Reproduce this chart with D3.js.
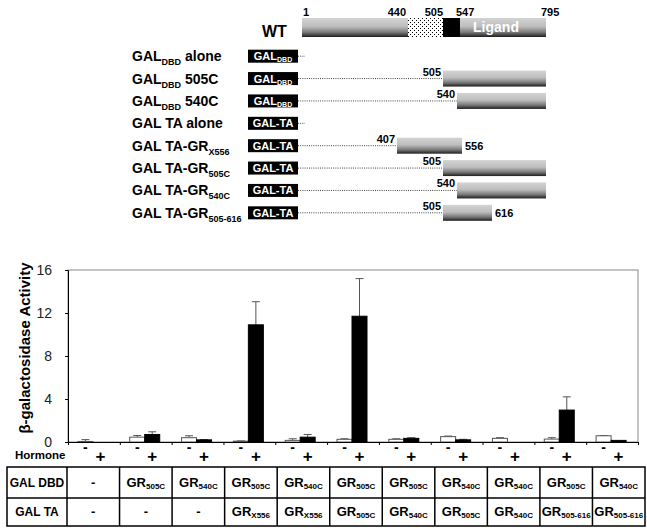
<!DOCTYPE html>
<html>
<head>
<meta charset="utf-8">
<script src="https://cdn.jsdelivr.net/npm/d3@7"></script>
<style>
body { margin: 0; background: #fff; }
svg { font-family: "Liberation Sans", Arial, Helvetica, sans-serif; font-weight: bold; }
</style>
</head>
<body>
<svg width="647" height="532"></svg>
<script>
// ---- construct map (top) ----
const wtMarks = [1, 440, 505, 547, 795]
const wtDomains = [
    {from: 1, to: 440, kind: "grad"},
    {from: 440, to: 505, kind: "dots"},
    {from: 505, to: 547, kind: "black"},
    {from: 547, to: 795, kind: "grad", name: "Ligand"}
]
const constructNames = [
    ["GAL", "DBD", " alone"],
    ["GAL", "DBD", " 505C"],
    ["GAL", "DBD", " 540C"],
    ["GAL TA alone", "", ""],
    ["GAL TA-GR", "X556", ""],
    ["GAL TA-GR", "505C", ""],
    ["GAL TA-GR", "540C", ""],
    ["GAL TA-GR", "505-616", ""]
]
const constructTags = ["DBD", "DBD", "DBD", "TA", "TA", "TA", "TA", "TA"]
const constructStart = [null, 505, 540, null, 407, 505, 540, 505]
const constructEnd = [null, 795, 795, null, 556, 795, 795, 616]

// ---- assay (bottom) ----
const hormone = ["-", "+"]
const noHormone = [0.05, 0.45, 0.4, 0.08, 0.15, 0.25, 0.25, 0.5, 0.34, 0.27, 0.58]
const noHormoneErr = [0.17, 0.15, 0.18, 0.02, 0.15, 0.05, 0.05, 0.05, 0.06, 0.13, 0.02]
const withHormone = [0, 0.7, 0.2, 10.9, 0.45, 11.7, 0.34, 0.2, 0, 2.97, 0.15]
const withHormoneErr = [0, 0.25, 0.02, 2.15, 0.25, 3.5, 0.06, 0.05, 0, 1.23, 0]
const yTicks = [0, 4, 8, 12, 16]
const dbdRow = ["-", "505C", "540C", "505C", "540C", "505C", "505C", "540C", "540C", "505C", "540C"]
const taRow = ["-", "-", "-", "X556", "X556", "505C", "540C", "505C", "540C", "505-616", "505-616"]

const svg = d3.select("svg")

// gradient + dot pattern
const defs = svg.append("defs")
const grad = defs.append("linearGradient")
    .attr("id", "grayGrad")
    .attr("x1", 0).attr("y1", 0).attr("x2", 0).attr("y2", 1)
grad.selectAll("stop")
    .data([[0, "#d4d4d4"], [0.45, "#bdbdbd"], [0.75, "#7a7a7a"], [1, "#1e1e1e"]])
    .join("stop")
    .attr("offset", d => d[0])
    .attr("stop-color", d => d[1])
const dots = defs.append("pattern")
    .attr("id", "dots")
    .attr("width", 4).attr("height", 4)
    .attr("patternUnits", "userSpaceOnUse")
dots.append("rect").attr("width", 4).attr("height", 4).attr("fill", "#fff")
dots.append("rect").attr("x", 0).attr("y", 0).attr("width", 1).attr("height", 1).attr("fill", "#000")
dots.append("rect").attr("x", 2).attr("y", 2).attr("width", 1).attr("height", 1).attr("fill", "#000")

// schematic residue scale (not proportional in the original drawing)
const aa = d3.scaleLinear()
    .domain([1, 407, 440, 505, 540, 547, 556, 616, 795])
    .range([302, 397, 408, 443, 457, 460, 462, 492, 546])

// WT bar
const wt = svg.append("g")
wt.append("text")
    .attr("x", 262).attr("y", 37)
    .attr("font-size", 16)
    .text("WT")
wt.selectAll("rect")
    .data(wtDomains)
    .join("rect")
    .attr("x", d => aa(d.from))
    .attr("width", d => aa(d.to) - aa(d.from))
    .attr("y", 18)
    .attr("height", 19)
    .attr("fill", function(d){
        if (d.kind == "grad") return "url(#grayGrad)"
        if (d.kind == "dots") return "url(#dots)"
        return "#000"
    })
wt.selectAll("text.dom")
    .data(wtDomains.filter(d => d.name))
    .join("text")
    .attr("class", "dom")
    .attr("x", d => (aa(d.from) + aa(d.to)) / 2 - 7)
    .attr("y", 32)
    .attr("text-anchor", "middle")
    .attr("font-size", 14)
    .attr("fill", "#fff")
    .text(d => d.name)
wt.selectAll("text.mark")
    .data(wtMarks)
    .join("text")
    .attr("class", "mark")
    .attr("x", function(d, i){
        if (i == 0) return aa(d) + 1
        if (i == 1) return aa(d) - 2
        if (i == 2) return aa(d)
        if (i == 3) return aa(d) - 4
        return aa(d) - 5
    })
    .attr("text-anchor", (d, i) => (i == 1 || i == 2) ? "end" : "start")
    .attr("y", 16)
    .attr("font-size", 11)
    .text(d => d)

// construct rows
const rows = d3.scaleBand().domain(d3.range(8)).range([45, 224])
const cons = svg.append("g")
    .selectAll("g")
    .data(constructNames.map((n, i) => ({name: n, tag: constructTags[i], start: constructStart[i], end: constructEnd[i], i: i})))
    .join("g")
    .attr("transform", d => "translate(0," + (rows(d.i) + rows.bandwidth() / 2) + ")")

const lab = cons.append("text")
    .attr("x", 132).attr("y", 5)
    .attr("font-size", 14)
lab.append("tspan").text(d => d.name[0])
lab.append("tspan").attr("font-size", 9).attr("dy", 4).text(d => d.name[1])
lab.append("tspan").attr("dy", -4).text(d => d.name[2])

cons.append("line")
    .attr("x1", 298)
    .attr("x2", d => d.start ? aa(d.start) : 305)
    .attr("y1", 0).attr("y2", 0)
    .attr("stroke", "#444")
    .attr("stroke-width", 1)
    .attr("stroke-dasharray", "1,1.2")

cons.append("rect")
    .attr("x", 248).attr("y", -6.5)
    .attr("width", 50).attr("height", 13)
    .attr("fill", "#000")
const boxText = cons.append("text")
    .attr("x", 273).attr("y", 4)
    .attr("text-anchor", "middle")
    .attr("font-size", 11)
    .attr("fill", "#fff")
boxText.append("tspan").text(d => d.tag == "DBD" ? "GAL" : "GAL-TA")
boxText.append("tspan").attr("font-size", 7).attr("dy", 2).text(d => d.tag == "DBD" ? "DBD" : "")

const withBar = cons.filter(d => d.start)
withBar.append("rect")
    .attr("x", d => aa(d.start))
    .attr("width", d => aa(d.end) - aa(d.start))
    .attr("y", -8).attr("height", 16)
    .attr("fill", "url(#grayGrad)")
withBar.append("text")
    .attr("x", d => aa(d.start) - 2)
    .attr("y", -3)
    .attr("text-anchor", "end")
    .attr("font-size", 11)
    .text(d => d.start)
withBar.filter(d => d.end != 795).append("text")
    .attr("x", d => aa(d.end) + 3)
    .attr("y", 4)
    .attr("font-size", 11)
    .text(d => d.end)

// ---- bar chart ----
const y = d3.scaleLinear().domain([0, 16]).range([442, 270])
const x = d3.scaleBand().domain(d3.range(11)).range([68, 638])
const xs = d3.scaleBand().domain(hormone)
    .range([x.bandwidth() / 2 - 16, x.bandwidth() / 2 + 14])
const xEdge = d3.scaleLinear().domain([0, 11]).range([68, 638])

svg.append("rect")
    .attr("x", 68).attr("y", y(16))
    .attr("width", 570).attr("height", y(0) - y(16))
    .attr("fill", "none")
    .attr("stroke", "#8a8a8a")

const bars = []
noHormone.forEach(function(v, i){
    bars.push({g: i, h: "-", v: v, e: noHormoneErr[i]})
    bars.push({g: i, h: "+", v: withHormone[i], e: withHormoneErr[i]})
})

const err = svg.append("g")
    .selectAll("g")
    .data(bars.filter(d => d.e > 0))
    .join("g")
    .attr("stroke", "#555")
    .attr("stroke-width", 1)
err.append("line")
    .attr("x1", d => x(d.g) + xs(d.h) + xs.bandwidth() / 2)
    .attr("x2", d => x(d.g) + xs(d.h) + xs.bandwidth() / 2)
    .attr("y1", d => y(d.v))
    .attr("y2", d => y(d.v + d.e))
err.append("line")
    .attr("x1", d => x(d.g) + xs(d.h) + xs.bandwidth() / 2 - 4)
    .attr("x2", d => x(d.g) + xs(d.h) + xs.bandwidth() / 2 + 4)
    .attr("y1", d => y(d.v + d.e))
    .attr("y2", d => y(d.v + d.e))

svg.append("g")
    .selectAll("rect")
    .data(bars.filter(d => d.v > 0))
    .join("rect")
    .attr("x", d => x(d.g) + xs(d.h))
    .attr("width", xs.bandwidth())
    .attr("y", d => y(d.v))
    .attr("height", d => y(0) - y(d.v))
    .attr("fill", d => d.h == "-" ? "#fff" : "#000")
    .attr("stroke", d => d.h == "-" ? "#555" : "#000")
    .attr("stroke-width", 1)

const yAxis = svg.append("g")
    .attr("transform", "translate(68,0)")
    .call(d3.axisLeft(y).tickValues(yTicks).tickSize(3).tickPadding(13))
yAxis.selectAll("text")
    .attr("font-family", '"Liberation Sans", Arial, sans-serif')
    .attr("font-weight", "normal")
    .attr("font-size", 14)
    .attr("fill", "#222")

svg.append("g")
    .attr("transform", "translate(0," + y(0) + ")")
    .call(d3.axisBottom(xEdge).tickValues(d3.range(12)).tickSize(3).tickFormat(""))

svg.append("text")
    .attr("transform", "translate(30,348) rotate(-90)")
    .attr("text-anchor", "middle")
    .attr("font-size", 15)
    .text("β-galactosidase Activity")

// hormone row
svg.append("text")
    .attr("x", 15).attr("y", 459)
    .attr("font-size", 11.5)
    .text("Hormone")
svg.append("g")
    .selectAll("text")
    .data(bars)
    .join("text")
    .attr("x", d => x(d.g) + xs(d.h) + xs.bandwidth() / 2)
    .attr("y", d => d.h == "-" ? 452 : 462)
    .attr("text-anchor", "middle")
    .attr("font-size", d => d.h == "-" ? 14 : 17)
    .text(d => d.h)

// ---- table ----
const tx = d3.scaleBand().domain(d3.range(11)).range([67, 645])
const tRows = [
    {name: "GAL DBD", cells: dbdRow, top: 467, bottom: 498},
    {name: "GAL TA", cells: taRow, top: 498, bottom: 526}
]
const table = svg.append("g")
    .attr("stroke", "#000")
    .attr("stroke-width", 1.5)
table.append("rect")
    .attr("x", 7).attr("y", 467)
    .attr("width", 638).attr("height", 59)
    .attr("fill", "none")
table.append("line")
    .attr("x1", 7).attr("x2", 645)
    .attr("y1", 498).attr("y2", 498)
table.selectAll("line.col")
    .data(d3.range(11))
    .join("line")
    .attr("class", "col")
    .attr("x1", d => tx(d)).attr("x2", d => tx(d))
    .attr("y1", 467).attr("y2", 526)

const tr = svg.append("g")
    .selectAll("g")
    .data(tRows)
    .join("g")
    .attr("transform", d => "translate(0," + ((d.top + d.bottom) / 2 + 4) + ")")
tr.append("text")
    .attr("x", 37)
    .attr("text-anchor", "middle")
    .attr("font-size", 12)
    .text(d => d.name)
const cell = tr.selectAll("text.cell")
    .data(d => d.cells)
    .join("text")
    .attr("class", "cell")
    .attr("x", (d, i) => tx(i) + tx.bandwidth() / 2)
    .attr("text-anchor", "middle")
    .attr("font-size", 13)
cell.append("tspan").text(d => d == "-" ? "-" : "GR")
cell.append("tspan").attr("font-size", 8).attr("dy", 2).text(d => d == "-" ? "" : d)
</script>
</body>
</html>
